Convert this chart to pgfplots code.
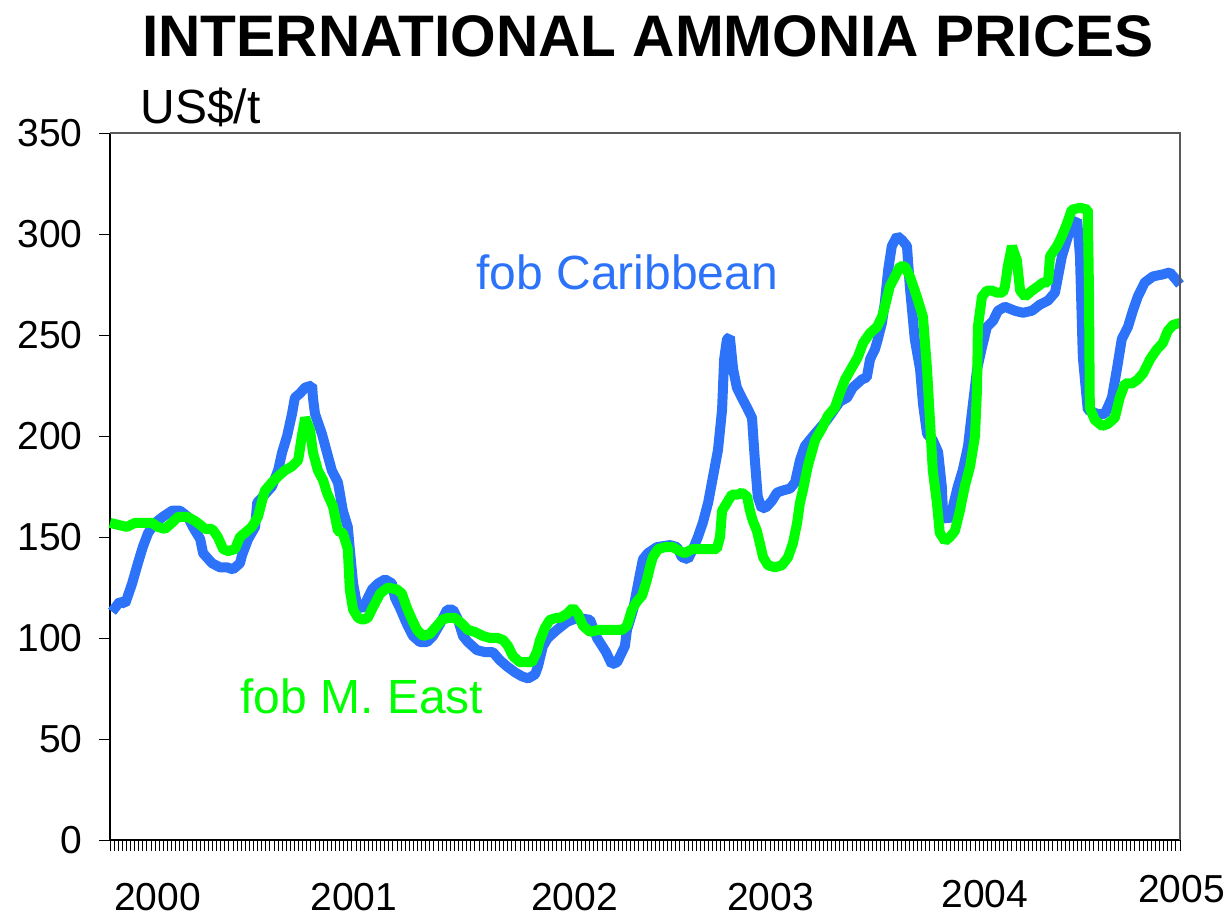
\documentclass[border=0pt]{standalone}
\usepackage{fontspec}
\setmainfont{Liberation Sans}
\usepackage{pgfplots}
\usepackage{pgfplotstable}
\pgfplotsset{compat=1.18}
\definecolor{carib}{RGB}{45,115,250}
\definecolor{meast}{RGB}{0,255,0}

% weekly prices, US$/t (week 0 = start of 2000)
\pgfplotstableread{
week price
0.5 113
2.4 118
3.7 117
5.4 127
6.8 137
8.0 145
9.3 152
11.0 157
12.9 160
15.1 163
17.1 163
19.0 160
20.2 155
22.0 149
22.7 142
24.9 137
26.8 135
28.5 135
30.0 134
31.7 137
32.2 141
33.7 149
35.4 155
35.9 167
37.3 170
39.5 175
41.0 183
42.0 192
43.2 200
44.4 211
45.1 219
46.3 221
47.6 224
49.3 225
49.5 219
50.0 211
51.7 201
52.9 192
54.1 183
55.6 177
56.8 163
58.0 155
58.5 144
59.3 127
60.2 117
61.5 114
62.7 119
63.9 124
65.4 127
67.1 129
68.8 127
69.5 120
70.7 115
72.4 107
73.9 101
75.6 98
77.3 98
78.8 101
80.5 107
82.2 114
83.7 114
84.9 109
86.1 101
87.3 98
89.5 94
91.5 93
93.4 93
95.1 89
96.8 86
98.8 83
100.5 81
102.0 80
103.7 82
104.4 86
105.6 96
106.8 100
109.0 104
111.5 108
114.0 110
117.1 109
118.8 100
121.0 93
122.4 87
123.7 88
125.6 96
126.1 104
127.6 114
129.3 132
130.0 139
131.2 142
133.4 145
136.6 146
138.3 145
139.5 140
141.0 139
142.2 144
143.4 150
144.6 157
145.9 167
147.1 180
148.3 193
149.3 213
149.8 238
150.5 248
151.2 249
152.0 233
152.9 224
154.1 219
155.4 214
156.6 209
157.3 188
158.0 170
159.0 164
160.2 165
161.5 168
162.7 172
164.1 173
165.9 174
167.1 177
168.3 188
169.5 195
171.5 200
173.2 204
174.9 208
176.3 212
178.0 217
179.8 219
181.2 224
183.4 228
184.6 229
185.4 238
186.6 243
187.3 248
188.3 256
189.0 266
189.8 282
190.7 294
192.0 299
193.2 297
194.4 294
195.1 274
196.3 248
197.6 233
198.3 216
199.3 201
200.7 198
202.0 192
202.9 175
203.2 162
204.4 158
205.6 165
206.8 175
208.0 183
209.3 195
210.2 211
211.5 233
212.7 244
213.9 254
215.4 257
216.6 262
218.3 264
220.7 262
222.7 261
224.9 262
226.8 265
228.8 267
230.5 271
232.2 289
233.4 297
234.6 305
235.9 307
236.6 289
237.3 239
238.5 213
240.7 211
242.7 211
244.4 219
245.6 233
246.8 248
248.3 254
249.5 262
250.7 269
252.4 276
254.4 279
256.8 280
258.5 281
259.8 278
261.0 275
}\caribbean

\pgfplotstableread{
week price
0.0 157
2.0 156
4.1 155
6.1 157
8.0 157
10.2 157
11.7 155
13.4 154
15.1 157
16.6 160
18.8 160
20.7 158
22.0 156
23.2 154
24.9 154
26.3 150
27.6 144
28.8 143
30.5 144
31.7 150
32.9 152
34.6 155
36.1 160
37.1 168
37.8 173
39.5 177
41.0 180
42.7 183
44.4 185
45.9 188
46.8 200
47.6 209
48.8 203
49.5 192
50.7 183
52.0 178
52.9 172
54.4 165
54.9 160
55.6 153
56.8 152
58.0 144
58.5 124
59.3 114
60.5 110
61.7 109
62.9 110
64.1 115
65.9 122
67.8 125
70.0 124
71.2 122
72.4 115
73.7 109
74.9 104
76.3 101
78.0 102
79.3 105
81.0 109
82.4 110
84.1 110
85.9 107
87.3 104
89.0 103
91.0 101
92.7 100
94.6 100
95.9 99
97.1 96
98.3 91
100.0 88
101.7 88
102.9 88
104.1 93
104.9 99
106.1 105
107.3 109
109.0 110
109.8 110
111.5 112
112.9 115
114.1 112
115.4 106
117.1 103
119.0 104
121.2 104
123.2 104
124.9 104
126.1 106
127.3 114
128.5 118
129.8 121
131.0 129
131.7 135
132.4 140
133.7 144
135.4 145
137.3 145
139.0 143
140.2 142
142.0 144
143.9 144
145.9 144
148.0 144
148.8 150
149.3 163
150.5 167
151.7 171
153.2 171
154.1 172
155.4 170
156.1 163
156.8 158
157.8 153
158.5 147
159.3 140
160.5 136
162.2 135
163.9 136
165.4 140
166.6 147
167.6 157
168.3 167
169.0 173
170.2 185
172.0 198
173.7 204
175.1 210
176.8 214
178.0 221
179.3 228
181.0 234
182.4 239
183.7 246
185.4 251
187.1 254
188.3 259
189.0 264
190.2 274
191.5 279
192.7 284
193.9 284
195.1 279
196.3 272
197.1 267
198.3 259
199.3 233
200.0 208
200.7 183
201.7 167
202.4 152
203.7 148
204.9 150
206.1 153
207.3 163
208.5 175
209.8 185
211.0 200
211.5 224
211.7 254
212.7 269
213.9 272
215.1 272
216.3 271
217.8 271
218.3 274
219.0 284
220.0 294
221.2 287
222.0 272
223.2 269
224.9 272
226.3 274
227.6 276
228.8 276
229.3 289
231.0 294
232.2 299
233.4 305
234.6 312
236.6 313
238.5 312
238.8 272
239.0 214
240.2 208
242.0 205
243.4 206
245.1 209
246.3 219
247.6 226
249.3 226
250.7 228
252.0 231
253.7 238
255.4 243
256.8 246
258.0 252
259.3 255
261.0 256
}\meast

\begin{document}
\begin{tikzpicture}
\begin{axis}[
  at={(0,0)}, anchor=south west,
  scale only axis, width=535pt, height=353.5pt,
  xmin=0, xmax=261, ymin=0, ymax=350,
  axis x line*=bottom, axis y line*=left,
  axis line style={-, black, line width=0.8pt},
  xtick={0,1,...,261}, xticklabels={},
  ytick={0,50,...,350},
  tick align=outside,
  major tick length=5.5pt,
  tick style={black, line width=0.45pt},
  /pgf/number format/assume math mode=true,
  yticklabel style={font=\fontsize{19.5}{20}\selectfont, inner sep=0pt, anchor=east, xshift=-8pt},
  clip=false,
  line join=bevel,
]
\addplot[carib, line width=5pt] table[x=week, y=price] {\caribbean};
\addplot[meast, line width=5pt] table[x=week, y=price] {\meast};
\end{axis}
\draw[gray!70!black, line width=0.6pt] (0,353.5pt) -- (535pt,353.5pt) -- (535pt,0);
\node[inner sep=0, font=\bfseries\fontsize{29.3}{30}\selectfont] at (269pt,402pt) {INTERNATIONAL AMMONIA PRICES};
\node[inner sep=0, anchor=base west, font=\fontsize{24}{26}\selectfont] at (15pt,358pt) {US\$/t};
\node[inner sep=0, anchor=base west, text=carib, font=\fontsize{24}{26}\selectfont] at (183pt,275pt) {fob Caribbean};
\node[inner sep=0, anchor=base west, text=meast, font=\fontsize{24}{26}\selectfont] at (65pt,63pt) {fob M. East};
\begin{scope}[every node/.style={inner sep=0, anchor=base, font=\fontsize{19.5}{20}\selectfont}]
\node at (23.75pt,-35pt) {2000};
\node at (122pt,-35pt) {2001};
\node at (232.25pt,-35pt) {2002};
\node at (330.25pt,-35pt) {2003};
\node at (437.5pt,-33.5pt) {2004};
\node at (535.75pt,-31pt) {2005};
\end{scope}
\path (-55pt,-38pt) rectangle (561pt,420pt);
\end{tikzpicture}
\end{document}
